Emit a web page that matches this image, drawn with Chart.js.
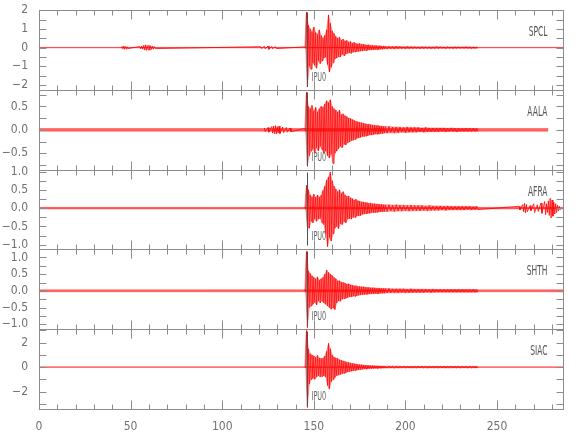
<!DOCTYPE html>
<html>
<head>
<meta charset="utf-8">
<script src="https://cdn.jsdelivr.net/npm/chart.js@4.4.1/dist/chart.umd.min.js"></script>
<style>
  html, body { margin: 0; padding: 0; background: #fff; }
  canvas { display: block; }
</style>
</head>
<body>
<canvas id="seis" width="580" height="440"></canvas>
<script>
// stations, top to bottom
const stations = ['SPCL', 'AALA', 'AFRA', 'SHTH', 'SIAC'];

// vertical range of each panel and its tick steps
const yMin = [-2.26, -0.85, -1.13, -1.15, -3.43];
const yMax = [2.0, 0.85, 1.05, 1.24, 3.1];
const yLabelStep = [1, 0.5, 0.5, 0.5, 2];
const yMinorStep = [0.5, 0.25, 0.25, 0.25, 1];
const yDecimals = [0, 1, 1, 1, 0];

const xMax = 286;
const pickTime = 146.1;
const pickLabel = 'IPU0';

// length of each record (s) and its background noise level
const traceEnd = [286, 278, 286, 286, 286];
const noiseAmp = [0.015, 0.028, 0.022, 0.03, 0.035];

// times of the envelope samples through the event (s)
const eventTimes = [145, 146, 147, 148, 149, 150, 151, 152, 153, 154,
  155, 156, 157, 158, 159, 160, 161, 162, 163, 164,
  165, 166, 167, 168, 169, 170, 171, 172, 173, 174,
  175, 176, 177, 178, 179, 180, 181, 182, 183, 184,
  185, 186, 187, 188, 189,
  191, 193, 195, 197, 199, 201, 203, 205, 207, 209, 211, 213, 215,
  217, 219, 221, 223, 225, 227, 229, 231, 233, 235, 237, 239];

// positive / negative peaks at eventTimes
const spclHi = [0.04, 1.9, 1.2, 1.0, 0.85, 1.1, 0.8, 0.7, 0.95, 0.65,
  0.5, 0.65, 0.95, 1.75, 1.3, 0.9, 0.75, 0.6, 0.5, 0.55,
  0.4, 0.45, 0.35, 0.38, 0.3, 0.32, 0.25, 0.28, 0.22, 0.2,
  0.22, 0.17, 0.18, 0.15, 0.14, 0.15, 0.12, 0.12, 0.1, 0.11,
  0.09, 0.1, 0.08, 0.08, 0.07,
  0.07, 0.06, 0.07, 0.06, 0.05, 0.06, 0.05, 0.05, 0.04, 0.05, 0.04, 0.04, 0.04,
  0.05, 0.04, 0.03, 0.04, 0.03, 0.04, 0.03, 0.03, 0.04, 0.03, 0.03, 0.03];
const spclLo = [-0.04, -2.1, -1.0, -1.15, -0.8, -0.95, -1.1, -0.7, -0.85, -0.7,
  -0.55, -0.5, -0.9, -1.3, -1.05, -0.8, -0.6, -0.55, -0.48, -0.5,
  -0.36, -0.42, -0.33, -0.3, -0.28, -0.3, -0.24, -0.22, -0.2, -0.2,
  -0.18, -0.17, -0.15, -0.15, -0.13, -0.12, -0.12, -0.11, -0.1, -0.1,
  -0.09, -0.08, -0.08, -0.07, -0.07,
  -0.06, -0.07, -0.06, -0.05, -0.06, -0.05, -0.05, -0.04, -0.05, -0.04, -0.04, -0.05, -0.04,
  -0.04, -0.03, -0.04, -0.03, -0.04, -0.03, -0.03, -0.03, -0.03, -0.04, -0.03, -0.03];

const aalaHi = [0.03, 0.8, 0.5, 0.45, 0.52, 0.4, 0.48, 0.38, 0.45, 0.5,
  0.48, 0.55, 0.62, 0.58, 0.64, 0.5, 0.45, 0.42, 0.38, 0.42,
  0.32, 0.34, 0.3, 0.28, 0.25, 0.24, 0.22, 0.2, 0.18, 0.17,
  0.16, 0.15, 0.14, 0.13, 0.12, 0.12, 0.11, 0.1, 0.1, 0.09,
  0.09, 0.08, 0.08, 0.07, 0.07,
  0.07, 0.06, 0.06, 0.06, 0.05, 0.06, 0.05, 0.05, 0.05, 0.04, 0.05, 0.04, 0.04,
  0.04, 0.04, 0.04, 0.03, 0.04, 0.03, 0.03, 0.03, 0.03, 0.03, 0.03, 0.03];
const aalaLo = [-0.03, -0.75, -0.55, -0.45, -0.4, -0.5, -0.38, -0.45, -0.35, -0.42,
  -0.5, -0.45, -0.55, -0.6, -0.52, -0.72, -0.5, -0.45, -0.4, -0.35,
  -0.38, -0.3, -0.32, -0.27, -0.26, -0.23, -0.22, -0.2, -0.18, -0.17,
  -0.16, -0.14, -0.14, -0.13, -0.12, -0.11, -0.11, -0.1, -0.09, -0.09,
  -0.09, -0.08, -0.08, -0.07, -0.07,
  -0.06, -0.07, -0.06, -0.05, -0.06, -0.05, -0.05, -0.05, -0.04, -0.05, -0.04, -0.04, -0.04,
  -0.04, -0.03, -0.04, -0.03, -0.03, -0.04, -0.03, -0.03, -0.03, -0.03, -0.03, -0.03];

const afraHi = [0.03, 0.62, 0.5, 0.36, 0.3, 0.38, 0.3, 0.36, 0.3, 0.35,
  0.48, 0.6, 0.77, 0.85, 0.98, 0.75, 0.6, 0.52, 0.45, 0.5,
  0.4, 0.45, 0.36, 0.32, 0.33, 0.28, 0.26, 0.22, 0.24, 0.2,
  0.19, 0.17, 0.17, 0.15, 0.15, 0.13, 0.14, 0.12, 0.12, 0.11,
  0.11, 0.1, 0.1, 0.09, 0.09,
  0.09, 0.08, 0.09, 0.08, 0.08, 0.07, 0.08, 0.07, 0.07, 0.07, 0.06, 0.07, 0.06,
  0.06, 0.06, 0.05, 0.06, 0.05, 0.05, 0.05, 0.05, 0.05, 0.05, 0.04, 0.05];
const afraLo = [-0.03, -0.5, -0.55, -0.35, -0.4, -0.3, -0.36, -0.3, -0.28, -0.4,
  -0.45, -0.7, -1.05, -0.8, -0.9, -0.7, -0.55, -0.5, -0.56, -0.42,
  -0.45, -0.36, -0.4, -0.3, -0.28, -0.3, -0.25, -0.25, -0.21, -0.21,
  -0.2, -0.17, -0.16, -0.15, -0.14, -0.14, -0.12, -0.12, -0.12, -0.11,
  -0.1, -0.1, -0.1, -0.09, -0.09,
  -0.08, -0.09, -0.08, -0.08, -0.07, -0.08, -0.07, -0.07, -0.07, -0.06, -0.07, -0.06, -0.06,
  -0.06, -0.05, -0.06, -0.05, -0.05, -0.05, -0.05, -0.05, -0.04, -0.05, -0.04, -0.04];

const shthHi = [0.04, 1.18, 0.6, 0.52, 0.45, 0.4, 0.36, 0.42, 0.32, 0.36,
  0.4, 0.5, 0.62, 0.55, 0.5, 0.46, 0.4, 0.36, 0.3, 0.3,
  0.26, 0.25, 0.23, 0.2, 0.21, 0.18, 0.17, 0.15, 0.15, 0.13,
  0.13, 0.12, 0.12, 0.11, 0.1, 0.1, 0.09, 0.09, 0.09, 0.08,
  0.08, 0.08, 0.07, 0.07, 0.07,
  0.07, 0.06, 0.06, 0.06, 0.06, 0.05, 0.06, 0.05, 0.05, 0.05, 0.05, 0.04, 0.05,
  0.04, 0.04, 0.04, 0.04, 0.04, 0.04, 0.04, 0.04, 0.04, 0.04, 0.04, 0.04];
const shthLo = [-0.04, -1.1, -0.5, -0.45, -0.4, -0.35, -0.42, -0.3, -0.36, -0.3,
  -0.36, -0.4, -0.45, -0.5, -0.55, -0.5, -0.56, -0.36, -0.3, -0.31,
  -0.25, -0.23, -0.22, -0.2, -0.18, -0.18, -0.16, -0.16, -0.14, -0.13,
  -0.12, -0.11, -0.11, -0.1, -0.1, -0.09, -0.09, -0.09, -0.08, -0.08,
  -0.08, -0.07, -0.07, -0.07, -0.06,
  -0.06, -0.06, -0.06, -0.05, -0.06, -0.05, -0.05, -0.05, -0.05, -0.05, -0.04, -0.05, -0.04,
  -0.04, -0.04, -0.04, -0.04, -0.04, -0.04, -0.04, -0.04, -0.04, -0.04, -0.04, -0.04];

const siacHi = [0.06, 3.0, 1.5, 1.1, 1.0, 0.9, 0.8, 0.95, 0.75, 0.7,
  0.72, 0.9, 1.3, 1.95, 1.5, 1.0, 0.82, 0.75, 0.7, 0.6,
  0.56, 0.5, 0.46, 0.4, 0.38, 0.33, 0.3, 0.28, 0.25, 0.22,
  0.2, 0.19, 0.17, 0.15, 0.14, 0.13, 0.12, 0.12, 0.11, 0.1,
  0.1, 0.09, 0.09, 0.08, 0.08,
  0.08, 0.07, 0.07, 0.07, 0.06, 0.06, 0.06, 0.06, 0.06, 0.06, 0.06, 0.06, 0.06,
  0.06, 0.06, 0.06, 0.06, 0.06, 0.06, 0.06, 0.06, 0.06, 0.06, 0.06, 0.06];
const siacLo = [-0.06, -3.3, -1.4, -1.0, -0.9, -1.0, -0.8, -0.7, -0.8, -0.75,
  -0.7, -0.8, -1.5, -1.8, -1.2, -1.0, -0.85, -0.7, -0.65, -0.6,
  -0.55, -0.5, -0.45, -0.4, -0.35, -0.33, -0.3, -0.27, -0.24, -0.22,
  -0.2, -0.18, -0.16, -0.15, -0.14, -0.12, -0.12, -0.11, -0.1, -0.1,
  -0.09, -0.09, -0.08, -0.08, -0.08,
  -0.07, -0.07, -0.07, -0.06, -0.06, -0.06, -0.06, -0.06, -0.06, -0.06, -0.06, -0.06, -0.06,
  -0.06, -0.06, -0.06, -0.06, -0.06, -0.06, -0.06, -0.06, -0.06, -0.06, -0.06, -0.06];

// small wave packets outside the main event (time s, peak amplitude)
const spclBurstT = [45, 46, 47, 48, 55, 56, 57, 58, 59, 60, 61, 62, 63, 121, 123, 125, 127, 129];
const spclBurstA = [0.05, 0.09, 0.07, 0.05, 0.06, 0.08, 0.12, 0.15, 0.12, 0.14, 0.1, 0.08, 0.05, 0.05, 0.07, 0.09, 0.06, 0.05];
const aalaBurstT = [123, 125, 127, 128, 129, 130, 131, 133, 135, 137];
const aalaBurstA = [0.04, 0.05, 0.07, 0.08, 0.09, 0.07, 0.08, 0.06, 0.05, 0.04];
const afraBurstT = [262, 264, 265, 266, 268, 270, 272, 274, 276, 277, 278, 279, 280, 281, 282, 283, 284];
const afraBurstA = [0.05, 0.1, 0.13, 0.1, 0.07, 0.12, 0.09, 0.14, 0.18, 0.12, 0.2, 0.27, 0.22, 0.16, 0.12, 0.08, 0.05];

const peaksHi = [spclHi, aalaHi, afraHi, shthHi, siacHi];
const peaksLo = [spclLo, aalaLo, afraLo, shthLo, siacLo];
const burstT = [spclBurstT, aalaBurstT, afraBurstT, [], []];
const burstA = [spclBurstA, aalaBurstA, afraBurstA, [], []];

const FONT = '"DejaVu Sans Condensed", "Liberation Sans Narrow", "Liberation Sans", sans-serif';
const RED = 'rgb(255,0,0)';

function halfStep(k) {
  const t = eventTimes[k];
  const next = k + 1 < eventTimes.length ? eventTimes[k + 1] : t + 1;
  return t + (next - t) / 2;
}

// each peak pair becomes an up swing then a down swing
function wiggle(i) {
  const pts = [];
  eventTimes.forEach((t, k) => {
    pts.push({x: t, y: peaksHi[i][k]});
    pts.push({x: halfStep(k), y: peaksLo[i][k]});
  });
  burstT[i].forEach((t, k) => {
    pts.push({x: t, y: burstA[i][k]});
    pts.push({x: t + 0.5, y: -burstA[i][k]});
  });
  return pts.sort((a, b) => a.x - b.x);
}

const datasets = [];
stations.forEach((name, i) => {
  const axis = 'y' + i;
  // background noise band
  datasets.push({
    data: [{x: 0, y: noiseAmp[i]}, {x: traceEnd[i], y: noiseAmp[i]}],
    yAxisID: axis, borderColor: 'rgba(255,0,0,0.7)', borderWidth: 0.5, pointRadius: 0, fill: false
  });
  datasets.push({
    data: [{x: 0, y: -noiseAmp[i]}, {x: traceEnd[i], y: -noiseAmp[i]}],
    yAxisID: axis, borderColor: 'rgba(255,0,0,0.7)', borderWidth: 0.5, pointRadius: 0,
    fill: '-1', backgroundColor: 'rgba(255,0,0,0.6)'
  });
  // envelope of the event, shaded
  datasets.push({
    data: eventTimes.map((t, k) => ({x: t, y: peaksHi[i][k]})),
    yAxisID: axis, borderColor: 'rgba(255,0,0,0.5)', borderWidth: 0.6, pointRadius: 0, fill: false
  });
  datasets.push({
    data: eventTimes.map((t, k) => ({x: halfStep(k), y: peaksLo[i][k]})),
    yAxisID: axis, borderColor: 'rgba(255,0,0,0.5)', borderWidth: 0.6, pointRadius: 0,
    fill: '-1', backgroundColor: 'rgba(255,30,30,0.42)'
  });
  // the wiggle trace itself
  datasets.push({
    data: wiggle(i),
    yAxisID: axis, borderColor: RED, borderWidth: 0.8, pointRadius: 0, tension: 0, fill: false
  });
});

function fmt(v, d) {
  const s = Math.abs(v) < 1e-9 ? (0).toFixed(d) : v.toFixed(d);
  return s.replace('-', '\u2212');
}

const scales = {
  x: {
    type: 'linear', min: 0, max: xMax, position: 'bottom',
    grid: {display: false}, border: {display: false},
    ticks: {stepSize: 50, includeBounds: false, color: '#707070', padding: 3,
            maxRotation: 0, font: {family: FONT, size: 12}},
    afterFit: s => { s.height = 31; }
  }
};
stations.forEach((name, i) => {
  scales['y' + i] = {
    type: 'linear', position: 'left', stack: 'traces', stackWeight: 1,
    weight: stations.length - i, offset: false,
    min: yMin[i], max: yMax[i],
    grid: {display: false}, border: {display: false},
    ticks: {stepSize: yLabelStep[i], includeBounds: false, autoSkip: false,
            color: '#707070', padding: 3, font: {family: FONT, size: 12},
            callback: v => fmt(v, yDecimals[i])},
    afterFit: s => { s.width = 39; }
  };
});

function narrowText(ctx, text, x, y, align, size, color) {
  ctx.save();
  ctx.translate(x, y);
  ctx.scale(0.6, 1);
  ctx.font = size + 'px ' + FONT;
  ctx.fillStyle = color;
  ctx.textAlign = align;
  ctx.textBaseline = 'alphabetic';
  ctx.fillText(text, 0, 0);
  ctx.restore();
}

// frames, inward ticks, pick line and labels for each panel
const panelFrames = {
  id: 'panelFrames',
  afterDatasetsDraw(chart) {
    const ctx = chart.ctx;
    const xs = chart.scales.x;
    const left = Math.round(xs.left) + 0.5;
    const right = Math.round(xs.right) + 0.5;
    ctx.save();
    ctx.lineWidth = 1;
    stations.forEach((name, i) => {
      const ys = chart.scales['y' + i];
      const top = Math.round(ys.top) + 0.5;
      const bot = Math.round(ys.bottom) + 0.5;

      const px = Math.round(xs.getPixelForValue(pickTime)) + 0.5;
      ctx.strokeStyle = '#505050';
      ctx.beginPath();
      ctx.moveTo(px, top + 2);
      ctx.lineTo(px, bot - 4);
      ctx.stroke();

      ctx.strokeStyle = '#8c8c8c';
      ctx.strokeRect(left, top, right - left, bot - top);
      ctx.beginPath();
      for (let t = 0; t <= xs.max; t += 10) {
        const x = Math.round(xs.getPixelForValue(t)) + 0.5;
        const len = t % 50 === 0 ? 9 : 5;
        ctx.moveTo(x, top); ctx.lineTo(x, top + len);
        ctx.moveTo(x, bot); ctx.lineTo(x, bot - len);
      }
      const step = yMinorStep[i];
      for (let v = Math.ceil(ys.min / step) * step; v <= ys.max + 1e-9; v += step) {
        const y = Math.round(ys.getPixelForValue(v)) + 0.5;
        ctx.moveTo(left, y); ctx.lineTo(left + 7, y);
        ctx.moveTo(right, y); ctx.lineTo(right - 7, y);
      }
      ctx.stroke();

      narrowText(ctx, name, right - 16, top + 25, 'right', 14, '#555');
      narrowText(ctx, pickLabel, px + 4, bot - 10, 'left', 12, '#666');
    });
    ctx.restore();
  }
};

new Chart(document.getElementById('seis').getContext('2d'), {
  type: 'line',
  data: {datasets: datasets},
  options: {
    responsive: false,
    animation: false,
    devicePixelRatio: 1,
    layout: {padding: {left: 0, right: 17, top: 5, bottom: 0}},
    plugins: {legend: {display: false}, tooltip: {enabled: false}},
    scales: scales
  },
  plugins: [panelFrames]
});
</script>
</body>
</html>
